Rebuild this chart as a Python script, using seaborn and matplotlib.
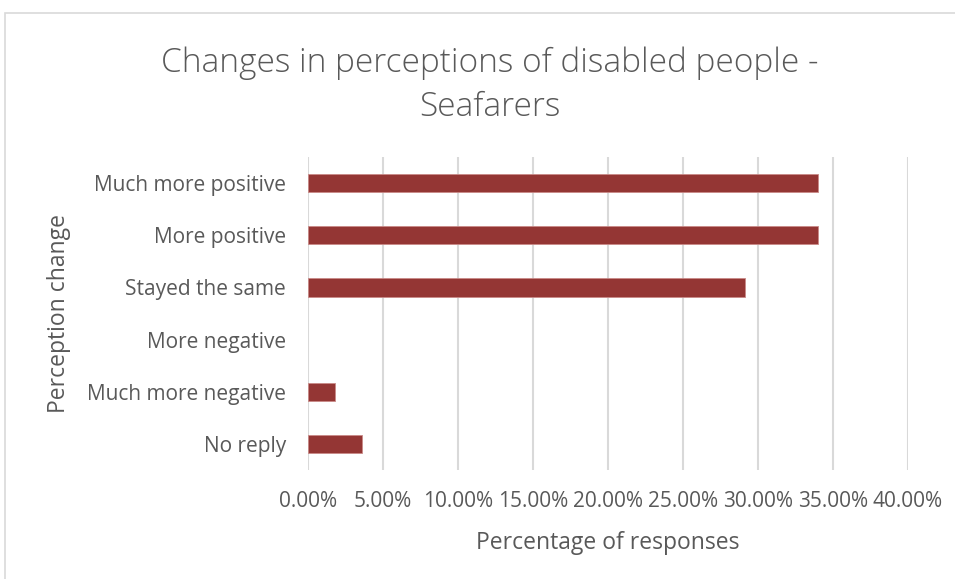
import matplotlib
matplotlib.use("Agg")
import matplotlib.pyplot as plt
from matplotlib.patches import Rectangle
from matplotlib.ticker import FuncFormatter, MultipleLocator
import seaborn as sns
import pandas as pd

categories = ["Much more positive", "More positive", "Stayed the same",
              "More negative", "Much more negative", "No reply"]
percentages = [34.0, 34.0, 29.1, 0.0, 1.8, 3.6]

title = "Changes in perceptions of disabled people -\nSeafarers"
x_label = "Percentage of responses"
y_label = "Perception change"

df = pd.DataFrame({"category": categories, "pct": percentages})

sns.set_theme(style="white")
plt.rcParams["font.family"] = ["Open Sans", "DejaVu Sans"]

text_color = "#595959"
grid_color = "#d9d9d9"
bar_color = "#943634"

W, H = 955, 579
fig = plt.figure(figsize=(W / 100, H / 100), dpi=100)
fig.patch.set_facecolor("white")

ax = fig.add_axes([308 / W, 1 - 470 / H, 600 / W, 313 / H])
sns.barplot(data=df, x="pct", y="category", order=categories, orient="h",
            color=bar_color, saturation=1, width=0.35, ax=ax,
            edgecolor="#c98a88", linewidth=0.6)
# an empty category keeps its slot but shows no sliver of a bar
for patch, v in zip(ax.patches, percentages):
    if v == 0:
        patch.set_visible(False)

ax.set_xlim(0, 40)
ax.xaxis.set_major_locator(MultipleLocator(5))
ax.xaxis.set_major_formatter(FuncFormatter(lambda v, _: f"{v:.2f}%"))
ax.grid(axis="x", color=grid_color, linewidth=1.5)
ax.set_axisbelow(True)
for s in ax.spines.values():
    s.set_visible(False)
ax.tick_params(axis="both", length=0, colors=text_color, labelsize=15)
ax.tick_params(axis="y", pad=16)
ax.tick_params(axis="x", pad=15)

ax.set_xlabel(x_label, color=text_color, fontsize=16.5)
ax.set_ylabel(y_label, color=text_color, fontsize=16.5)
ax.xaxis.set_label_coords(0.5, -(531 - 470) / 313)
ax.yaxis.set_label_coords(-(308 - 71) / 600, 0.5)

fig.text(490 / W, 1 - 85.5 / H, title, ha="center", va="center",
         color=text_color, fontsize=24, linespacing=1.42, fontweight="light")

fig.patches.append(Rectangle((4.5 / W, -0.05), 1.1, 1 - 13 / H + 0.05,
                             transform=fig.transFigure, fill=False,
                             edgecolor=grid_color, linewidth=1.2))

fig.savefig("out.png", dpi=100)
